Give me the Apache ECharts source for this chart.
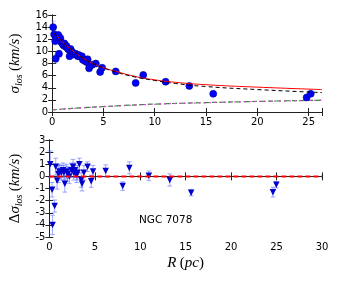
<!DOCTYPE html>
<html><head><meta charset="utf-8">
<script src="https://cdn.jsdelivr.net/npm/echarts@6/dist/echarts.min.js"></script>
<style>html,body{margin:0;padding:0;background:#fff}#c{width:337px;height:281px}</style>
</head><body><div id="c"></div>
<script>
// observed sigma_los: radius, value, error
const obsR   = [0.1,0.2,0.3,0.35,0.45,0.6,0.67,0.8,0.9,1.0,1.1,1.2,1.3,1.4,1.5,1.6,1.7,1.8,1.9,2.0,2.1,2.3,2.5,2.6,2.8,2.9,3.0,3.2,3.4,3.46,3.6,3.7,3.9,4.26,4.68,4.87,6.2,8.14,8.88,11.06,13.37,15.7,24.8,25.2];
const obsSig = [14.0,12.8,11.7,8.8,12.3,12.7,9.6,12.2,11.5,11.3,11.0,11.3,10.8,10.9,10.5,10.3,9.2,10.4,10.0,9.8,9.5,9.6,9.2,9.4,9.1,9.2,8.6,8.4,8.2,8.7,7.2,7.6,7.8,8.0,6.6,7.3,6.7,4.8,6.1,5.0,4.3,3.0,2.4,3.0];
const obsErr = [1.0,0.6,0.6,0.7,0.5,0.5,0.5,0.5,0.5,0.5,0.4,0.4,0.4,0.4,0.4,0.4,0.4,0.4,0.4,0.4,0.4,0.4,0.4,0.4,0.4,0.4,0.4,0.4,0.4,0.4,0.4,0.4,0.4,0.3,0.4,0.4,0.4,0.3,0.5,0.3,0.4,0.2,0.3,0.3];
// model curves
const modelR     = [0.2,0.5,1,1.5,2,2.5,3,4,5,6,8,10,12,15,20,26.3];
const modelRed   = [13.0,12.5,11.6,10.8,10.1,9.5,8.9,8.0,7.3,6.8,5.9,5.3,4.9,4.5,4.1,3.7];
const modelBlack = [13.0,12.5,11.6,10.8,10.1,9.5,8.9,8.0,7.3,6.7,5.8,5.2,4.7,4.2,3.7,3.2];
const lowR       = [0,2,5,10,15,20,26.3];
const lowGreen   = [0.35,0.6,0.9,1.3,1.55,1.75,1.95];
const lowMagenta = [0.33,0.58,0.88,1.28,1.53,1.74,1.94];
// residuals
const resR   = [0.1,0.3,0.35,0.58,0.7,0.85,1.0,1.1,1.3,1.5,1.6,1.7,1.9,2.0,2.2,2.4,2.6,2.7,2.8,3.0,3.1,3.3,3.5,3.6,3.8,4.2,4.6,4.8,6.2,8.07,8.8,10.95,13.25,15.6,24.6,24.97];
const resVal = [1.0,-1.1,-4.0,-2.45,0.8,-0.35,0.2,0.4,0.3,0.5,0.3,-0.6,0.4,0.2,0.0,0.5,0.8,0.3,0.5,0.1,0.3,1.0,-0.3,-0.6,0.3,0.8,-0.4,0.4,0.45,-0.8,0.7,0.05,-0.3,-1.35,-1.3,-0.7];
const resErr = [1.1,0.6,0.8,0.5,0.7,0.7,0.7,0.6,0.6,0.6,0.6,0.7,0.6,0.6,0.6,0.6,0.6,0.6,0.6,0.6,0.6,0.5,0.6,0.6,0.6,0.4,0.5,0.5,0.5,0.35,0.5,0.4,0.5,0.25,0.4,0.25];
const topXTicks = [0,5,10,15,20,25];
const label = 'NGC 7078';

const chart = echarts.init(document.getElementById('c'));
function errSeries(xi, yi, xs, ys, es, color) {
  return {
    type: 'custom', xAxisIndex: xi, yAxisIndex: yi, z: 1,
    data: xs.map((x, i) => [x, ys[i] - es[i], ys[i] + es[i]]),
    renderItem: function (params, api) {
      const lo = api.coord([api.value(0), api.value(1)]);
      const hi = api.coord([api.value(0), api.value(2)]);
      const w = 2.3;
      const st = { stroke: color, lineWidth: 1 };
      return { type: 'group', children: [
        { type: 'line', shape: { x1: lo[0], y1: lo[1], x2: hi[0], y2: hi[1] }, style: st },
        { type: 'line', shape: { x1: lo[0]-w, y1: lo[1], x2: lo[0]+w, y2: lo[1] }, style: st },
        { type: 'line', shape: { x1: hi[0]-w, y1: hi[1], x2: hi[0]+w, y2: hi[1] }, style: st }
      ]};
    }
  };
}
const tickFont = { fontFamily: 'DejaVu Sans', fontSize: 10, color: '#000' };
const axLine = { show: true, lineStyle: { color: '#222', width: 1 } };
const tickIn = { show: true, inside: true, length: 4, lineStyle: { color: '#222' } };
const nameRich = {
  a: { fontFamily: 'Liberation Serif', fontStyle: 'italic', fontSize: 15, color: '#000' },
  n: { fontFamily: 'Liberation Serif', fontSize: 15, color: '#000' },
  s: { fontFamily: 'Liberation Serif', fontStyle: 'italic', fontSize: 10, color: '#000', padding: [8, 0, 0, 0] }
};
chart.setOption({
  animation: false,
  backgroundColor: '#fff',
  grid: [
    { left: 48, top: 15, width: 274, height: 97 },
    { left: 48, top: 140, width: 274, height: 97 }
  ],
  xAxis: [
    { gridIndex: 0, type: 'value', min: 0, max: 26.3, interval: 5, position: 'bottom',
      axisLine: axLine, axisTick: tickIn, splitLine: { show: false },
      axisLabel: Object.assign({ margin: 5, customValues: topXTicks }, tickFont) },
    { gridIndex: 0, type: 'value', min: 0, max: 26.3, interval: 5, position: 'top',
      axisLine: axLine, axisTick: tickIn, splitLine: { show: false }, axisLabel: { show: false } },
    { gridIndex: 1, type: 'value', min: 0, max: 30, interval: 5, position: 'bottom',
      axisLine: axLine, axisTick: tickIn, splitLine: { show: false },
      axisLabel: Object.assign({ margin: 5 }, tickFont),
      name: '{a|R} {n|(}{a|pc}{n|)}', nameLocation: 'middle', nameGap: 19, nameTextStyle: { rich: nameRich } },
    { gridIndex: 1, type: 'value', min: 0, max: 30, interval: 5, position: 'top',
      axisLine: axLine, axisTick: tickIn, splitLine: { show: false }, axisLabel: { show: false } }
  ],
  yAxis: [
    { gridIndex: 0, type: 'value', min: 0, max: 16, interval: 2, position: 'left',
      axisLine: axLine, axisTick: tickIn, splitLine: { show: false },
      axisLabel: Object.assign({ margin: 4 }, tickFont),
      name: '{a|σ}{s|los} {n|(}{a|km/s}{n|)}', nameLocation: 'middle', nameGap: 21, nameRotate: 90,
      nameTextStyle: { rich: nameRich } },
    { gridIndex: 0, type: 'value', min: 0, max: 16, interval: 2, position: 'right',
      axisLine: axLine, axisTick: tickIn, splitLine: { show: false }, axisLabel: { show: false } },
    { gridIndex: 1, type: 'value', min: -5, max: 3, interval: 1, position: 'left',
      axisLine: axLine, axisTick: tickIn, splitLine: { show: false },
      axisLabel: Object.assign({ margin: 4 }, tickFont),
      name: '{n|Δ}{a|σ}{s|los} {n|(}{a|km/s}{n|)}', nameLocation: 'middle', nameGap: 21, nameRotate: 90,
      nameTextStyle: { rich: nameRich } },
    { gridIndex: 1, type: 'value', min: -5, max: 3, interval: 1, position: 'right',
      axisLine: axLine, axisTick: tickIn, splitLine: { show: false }, axisLabel: { show: false } }
  ],
  graphic: [{ type: 'text', left: 139, top: 215,
    style: { text: label, fontFamily: 'DejaVu Sans', fontSize: 10.5, fill: '#000' } }],
  series: [
    { type: 'line', xAxisIndex: 0, yAxisIndex: 0, showSymbol: false, smooth: true, z: 3,
      data: lowR.map((x, i) => [x, lowGreen[i]]),
      lineStyle: { color: '#2e8b2e', width: 1.2, type: [5, 3] } },
    { type: 'line', xAxisIndex: 0, yAxisIndex: 0, showSymbol: false, smooth: true, z: 3,
      data: lowR.map((x, i) => [x, lowMagenta[i]]),
      lineStyle: { color: '#e040e0', width: 1.2, type: [2, 3], dashOffset: 3 } },
    errSeries(0, 0, obsR, obsSig, obsErr, 'rgba(110,125,255,0.5)'),
    { type: 'scatter', xAxisIndex: 0, yAxisIndex: 0, symbol: 'circle', symbolSize: 7, z: 4,
      data: obsR.map((x, i) => [x, obsSig[i]]),
      itemStyle: { color: '#0000ff', borderColor: '#00008b', borderWidth: 0.6, opacity: 1 } },
    { type: 'line', xAxisIndex: 0, yAxisIndex: 0, showSymbol: false, smooth: true, z: 5,
      data: modelR.map((x, i) => [x, modelRed[i]]),
      lineStyle: { color: '#ff0000', width: 1 } },
    { type: 'line', xAxisIndex: 0, yAxisIndex: 0, showSymbol: false, smooth: true, z: 5,
      data: modelR.map((x, i) => [x, modelBlack[i]]),
      lineStyle: { color: '#000', width: 1, type: [4, 3] } },
    errSeries(2, 2, resR, resVal, resErr, 'rgba(90,110,255,0.6)'),
    { type: 'scatter', xAxisIndex: 2, yAxisIndex: 2, symbol: 'triangle', symbolRotate: 180, symbolSize: 6.5, z: 4,
      data: resR.map((x, i) => [x, resVal[i]]),
      itemStyle: { color: '#0000cc', opacity: 1 } },
    { type: 'line', xAxisIndex: 2, yAxisIndex: 2, showSymbol: false, z: 5,
      data: [[0, 0], [30, 0]],
      lineStyle: { color: '#ff0000', width: 2, type: [5, 3] } }
  ]
});
</script></body></html>
